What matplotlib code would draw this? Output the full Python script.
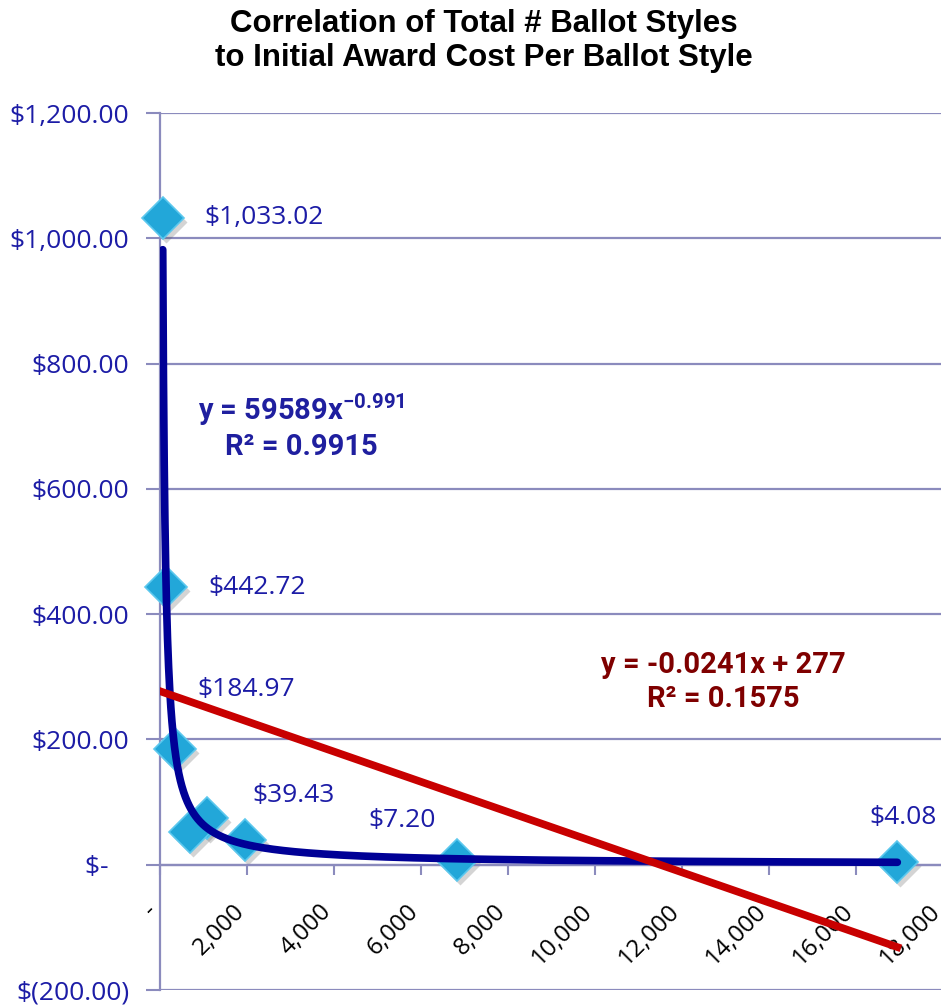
import matplotlib.pyplot as plt
import matplotlib.transforms as mtransforms
import numpy as np

# data
ballot_styles = [60, 135, 340, 1080, 690, 1950, 6830, 16950]
cost_per_style = [1033.02, 442.72, 184.97, 75.0, 53.0, 39.43, 7.20, 4.08]
point_labels = ['$1,033.02', '$442.72', '$184.97', '', '', '$39.43', '$7.20', '$4.08']
# label offsets in pixels (dx, dy) and horizontal alignment
label_offsets = [(42, 0, 'left'), (43, 0, 'left'), (23, 59, 'left'), (0, 0, 'left'),
                 (0, 0, 'left'), (8, 45, 'left'), (-55, 40, 'center'), (6, 45, 'center')]

# trendlines as reported on the chart
pow_a, pow_b = 59589, -0.991
lin_m, lin_c = -0.0241, 277
pow_x_start = 63

y_ticks = [-200, 0, 200, 400, 600, 800, 1000, 1200]
y_ticklabels = ['$(200.00)', '$-   ', '$200.00', '$400.00', '$600.00', '$800.00', '$1,000.00', '$1,200.00']
x_ticks = [0, 2000, 4000, 6000, 8000, 10000, 12000, 14000, 16000, 18000]
x_ticklabels = ['-', '2,000', '4,000', '6,000', '8,000', '10,000', '12,000', '14,000', '16,000', '18,000']

W, H = 941, 1007
blue_txt = '#1c1ca6'
grid_c = '#8b8bbd'
lbl_font = ['Open Sans', 'DejaVu Sans']

plt.rcParams['mathtext.fontset'] = 'custom'
plt.rcParams['mathtext.rm'] = 'Roboto'

fig = plt.figure(figsize=(W / 100, H / 100), dpi=100)
ax = fig.add_axes([160 / W, 1 - 990 / H, (943 - 160) / W, (990 - 113) / H])
ax.set_xlim(0, 18000)
ax.set_ylim(-200, 1200)

# spines first (moving a spine resets the ticks)
for s in ['top', 'right']:
    ax.spines[s].set_visible(False)
ax.spines['bottom'].set_position(('data', 0))
for s in ['left', 'bottom']:
    ax.spines[s].set_color(grid_c)
    ax.spines[s].set_linewidth(1.6)

# ticks and grid
ax.tick_params(axis='y', length=10, width=1.5, color=grid_c, pad=12)
ax.tick_params(axis='x', length=7, width=1.5, color=grid_c, pad=24, direction='out')
ax.set_yticks(y_ticks)
ax.set_yticklabels(y_ticklabels, color=blue_txt, fontsize=19, family=lbl_font)
ax.set_xticks(x_ticks)
ax.set_xticklabels(x_ticklabels, fontsize=17.5, family=lbl_font, rotation=45,
                   ha='right', va='center', rotation_mode='anchor')
ax.grid(axis='y', color=grid_c, linewidth=1.6)
ax.set_axisbelow(True)

# nudge rotated x labels so their upper end meets the tick
for lab in ax.get_xticklabels():
    lab.set_transform(lab.get_transform() + mtransforms.ScaledTranslation(-0.06, 0, fig.dpi_scale_trans))

# markers with a soft shadow
shadow = mtransforms.offset_copy(ax.transData, fig=fig, x=3, y=-4, units='dots')
ax.plot(ballot_styles, cost_per_style, 'D', ms=21, color='#555555', alpha=0.25,
        mec='none', transform=shadow, zorder=2)
ax.plot(ballot_styles, cost_per_style, 'D', ms=21, color='#22a7d9', mec='#5cc8ee',
        mew=1.2, zorder=3, clip_on=False)

# trendlines
x_max = max(ballot_styles)
xs = np.linspace(pow_x_start, x_max, 2000)
ax.plot(xs, pow_a * xs ** pow_b, color='#000096', lw=5.5, solid_capstyle='round', zorder=4)
xl = np.array([0, x_max])
ax.plot(xl, lin_m * xl + lin_c, color='#c80000', lw=5.5, zorder=4)

# point labels
for x, y, t, (dx, dy, ha) in zip(ballot_styles, cost_per_style, point_labels, label_offsets):
    if t:
        ax.annotate(t, (x, y), xytext=(dx, dy), textcoords='offset pixels', ha=ha, va='center',
                    fontsize=19, color=blue_txt, family=lbl_font, zorder=5)

# equations
ax.text(3240, 700, 'y = 59589x$^{\\mathregular{-0.991}}$\nR² = 0.9915', ha='center', va='center',
        fontsize=21, fontweight='bold', color='#1f1f9f', family=['Roboto', 'DejaVu Sans'],
        linespacing=1.2)
ax.text(12940, 292, 'y = -0.0241x + 277\nR² = 0.1575', ha='center', va='center',
        fontsize=21, fontweight='bold', color='#7f0000', family=['Roboto', 'DejaVu Sans'],
        linespacing=1.25)

fig.text(484 / W, 1 - 41 / H, 'Correlation of Total # Ballot Styles\nto Initial Award Cost Per Ballot Style',
         ha='center', va='center', fontsize=22.5, fontweight='bold',
         family=['Liberation Sans', 'DejaVu Sans'], linespacing=1.2)

fig.savefig('out.png', dpi=100)
